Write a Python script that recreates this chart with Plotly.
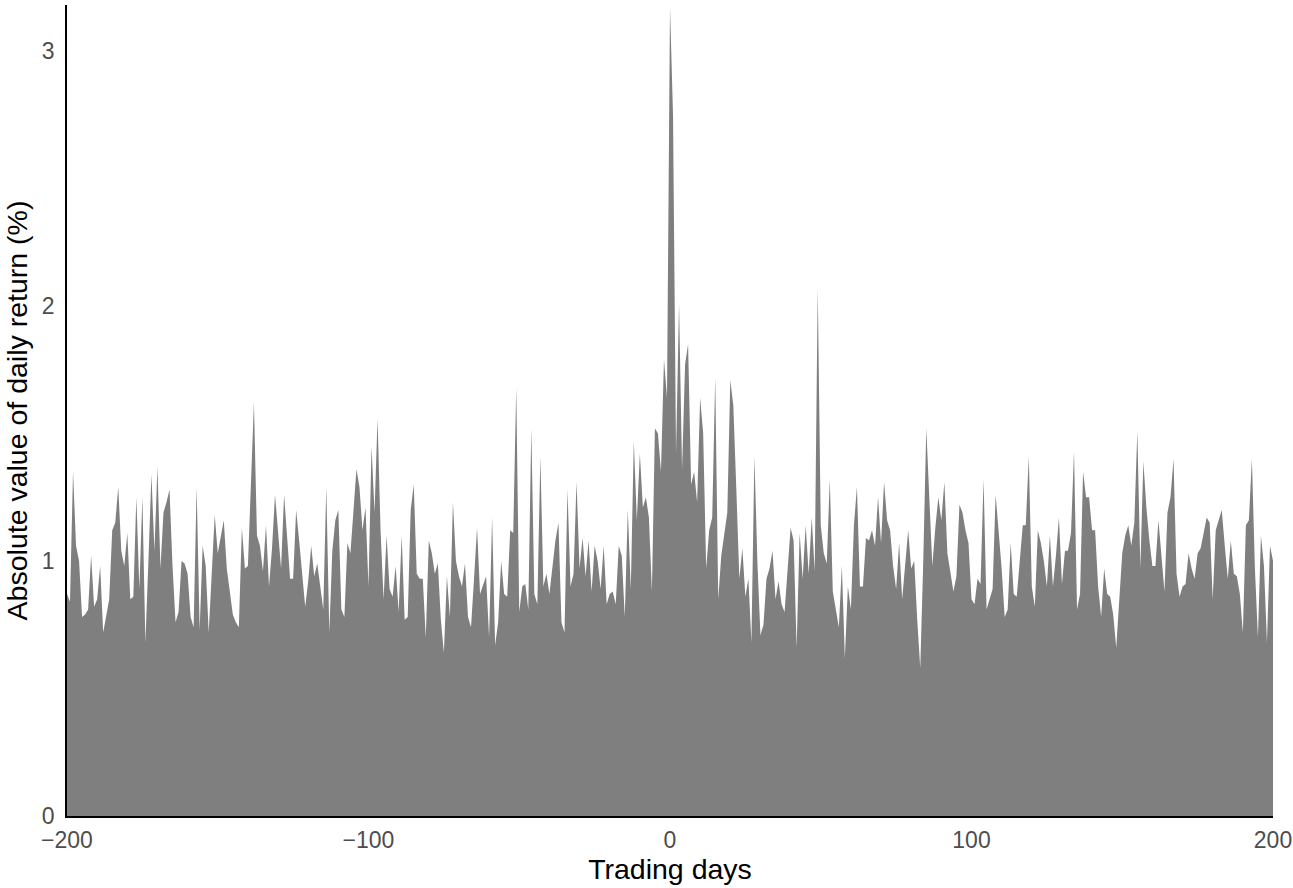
import plotly.graph_objects as go

days = list(range(-200, 201))

# absolute daily return (%) for days -200 .. -1
pre_event = [
    0.87, 0.84, 1.35, 1.06, 1.00, 0.78, 0.79, 0.81, 1.02, 0.82,
    0.85, 0.98, 0.72, 0.79, 0.85, 1.12, 1.15, 1.29, 1.04, 0.98,
    1.11, 0.85, 0.86, 1.25, 0.89, 1.25, 0.68, 1.00, 1.34, 1.04,
    1.37, 0.97, 1.19, 1.23, 1.28,
    0.98, 0.76, 0.80, 1.00, 0.99, 0.95, 0.78, 0.74, 1.29, 0.73,
    1.06, 0.98, 0.72, 0.95, 1.18, 1.03, 1.10, 1.16, 0.97, 0.88,
    0.79, 0.76, 0.74, 1.13, 0.97, 0.98, 1.30, 1.62, 1.10, 1.06,
    0.96, 1.14, 0.90,
    1.05, 1.26, 1.12, 0.97, 1.26, 1.10, 0.93, 0.93, 1.20, 1.08,
    0.95, 0.82, 0.92, 1.06, 0.94, 0.99, 0.90, 0.81, 1.29, 0.72,
    1.04, 1.16, 1.20, 0.81, 0.78, 1.07, 1.03, 1.21, 1.36, 1.29,
    1.12, 1.21, 0.90,
    1.45, 1.19, 1.56, 1.12, 0.85, 1.10, 0.89, 0.86, 0.98, 0.80,
    1.10, 0.77, 0.78, 1.20, 1.30, 0.95, 0.93, 0.93, 0.70, 1.08,
    1.03, 0.95, 0.99, 0.77, 0.64, 0.94, 0.78, 1.23, 1.00, 0.94,
    0.90, 0.99, 0.78,
    0.74, 0.93, 1.13, 0.87, 0.91, 0.94, 0.70, 1.17, 0.67, 0.76,
    1.00, 0.87, 0.86, 1.12, 1.11, 1.68, 0.80, 0.90, 0.91, 0.81,
    1.52, 0.87, 0.83, 1.41, 0.90, 0.95, 0.87, 0.99, 1.08, 1.15,
    0.76, 0.72, 1.28,
    0.90, 0.95, 1.31, 0.97, 1.09, 0.94, 1.08, 0.88, 1.06, 1.00,
    0.89, 1.06, 0.83, 0.87, 0.88, 0.83, 1.06, 1.02, 0.78, 1.20,
    0.89, 1.47, 1.16, 1.42, 1.21, 1.25, 1.17, 0.88, 1.52, 1.50,
    1.35, 1.79, 1.64,
]

# absolute daily return (%) for days 0 .. 200
post_event = [
    3.17, 2.75, 1.42, 2.01, 1.36, 1.77, 1.85, 1.30, 1.35, 1.23,
    1.64, 1.50, 0.97, 1.12, 1.17, 1.72, 0.85, 1.02, 1.11, 1.19,
    1.71, 1.61, 1.28, 0.93, 1.05, 0.86, 0.93, 0.68, 1.41, 0.99,
    0.71, 0.75, 0.93, 0.97,
    1.04, 0.85, 0.92, 0.83, 0.80, 0.97, 1.13, 1.08, 0.66, 1.11,
    0.93, 1.14, 0.95, 1.17, 0.96, 2.07, 1.14, 1.03, 0.99, 1.32,
    0.88, 0.81, 0.74, 0.98, 0.62, 0.90, 0.81, 1.14, 1.29, 0.90,
    0.90, 1.09, 1.08,
    1.12, 1.06, 1.25, 1.07, 1.31, 1.16, 1.12, 0.98, 0.89, 1.07,
    0.85, 1.00, 1.12, 0.97, 1.00, 0.77, 0.58, 1.00, 1.52, 1.25,
    0.98, 1.13, 1.25, 1.16, 1.31, 1.03, 0.95, 0.88, 0.94, 1.22,
    1.19, 1.12, 1.07,
    0.85, 0.83, 0.93, 0.91, 1.32, 0.81, 0.85, 0.89, 1.26, 1.11,
    0.97, 0.78, 0.81, 1.07, 0.87, 0.86, 1.00, 1.14, 1.14, 1.41,
    0.90, 0.82, 1.12, 1.07, 1.00, 0.90, 1.10, 0.90, 1.02, 1.17,
    0.91, 1.04, 1.04,
    1.11, 1.43, 0.81, 0.87, 1.35, 1.25, 1.25, 1.12, 1.12, 0.90,
    0.78, 0.97, 0.87, 0.86, 0.79, 0.66, 0.86, 1.03, 1.10, 1.14,
    1.06, 1.15, 1.51, 0.97, 1.39, 1.21, 1.08, 0.98, 0.98, 1.16,
    1.02, 0.88, 1.19, 1.25,
    1.40, 0.95, 0.86, 0.90, 0.91, 1.03, 0.97, 0.93, 1.03, 1.05,
    1.11, 1.17, 1.15, 0.85, 1.12, 1.16, 1.20, 1.06, 0.93, 1.08,
    0.95, 0.94, 0.87, 0.72, 1.14, 1.16, 1.40, 0.97, 0.70, 1.10,
    0.98, 0.68, 1.06, 1.00,
]

abs_return = pre_event + post_event

x_tickvals = [-200, -100, 0, 100, 200]
x_ticktext = ["\u2212200", "\u2212100", "0", "100", "200"]
y_tickvals = [0, 1, 2, 3]
y_ticktext = ["0", "1", "2", "3"]

fig = go.Figure()
fig.add_trace(go.Scatter(
    x=days, y=abs_return, mode="lines", fill="tozeroy",
    fillcolor="#7f7f7f", line=dict(color="#7f7f7f", width=0),
    hoverinfo="x+y", showlegend=False,
))

font_family = "Liberation Sans, Arial, sans-serif"
fig.update_layout(
    width=1293, height=888,
    margin=dict(l=67, r=20, t=5, b=72),
    paper_bgcolor="white", plot_bgcolor="white",
    font=dict(family=font_family),
    xaxis=dict(
        range=[-200, 200], tickvals=x_tickvals, ticktext=x_ticktext,
        showgrid=False, zeroline=False, showline=True,
        linecolor="black", linewidth=1.5,
        ticks="outside", ticklen=3, tickcolor="rgba(0,0,0,0)", automargin=False,
        tickfont=dict(size=23, color="#4d4d4d"),
        title=dict(text="Trading days", font=dict(size=28.5, color="black"), standoff=3),
    ),
    yaxis=dict(
        range=[0, 3.18], tickvals=y_tickvals, ticktext=y_ticktext,
        showgrid=False, zeroline=False, showline=True,
        linecolor="black", linewidth=1.5,
        ticks="outside", ticklen=6, tickcolor="rgba(0,0,0,0)", automargin=False,
        tickfont=dict(size=23, color="#4d4d4d"),
        title=dict(text="Absolute value of daily return (%)", font=dict(size=28.5, color="black"), standoff=6),
    ),
)

fig.write_html("out.html")
